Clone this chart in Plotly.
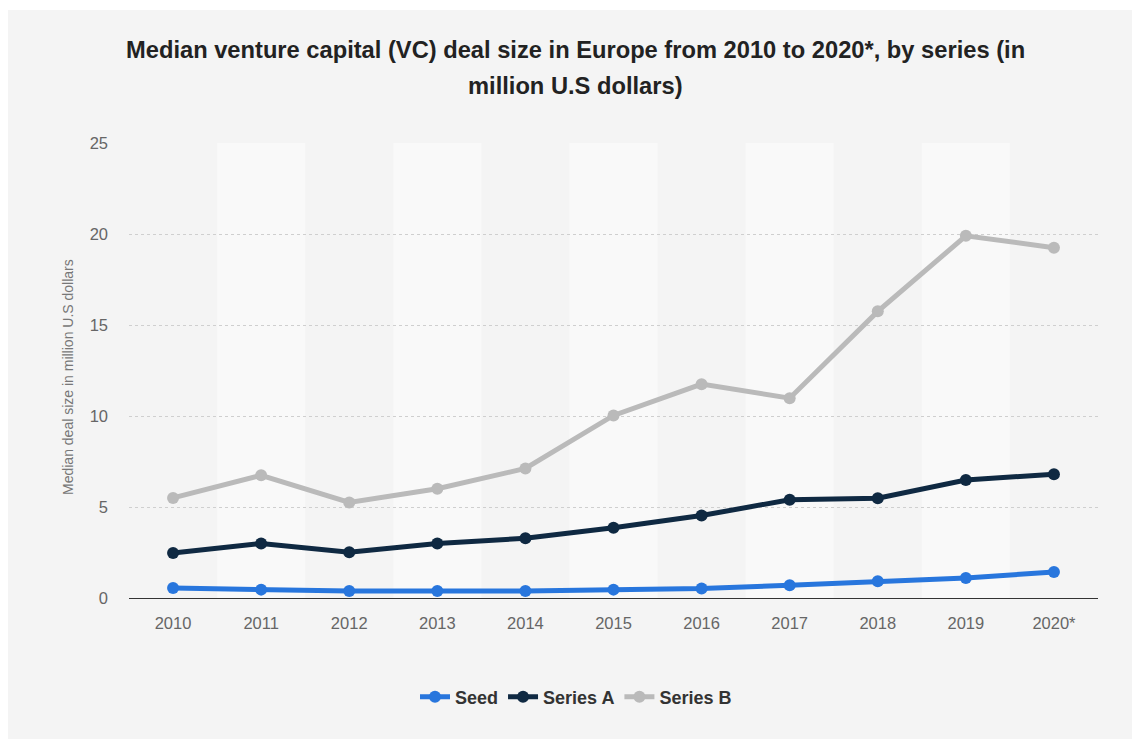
import plotly.graph_objects as go

# Median VC deal size in Europe, million U.S. dollars
years = ["2010", "2011", "2012", "2013", "2014", "2015", "2016", "2017", "2018", "2019", "2020*"]
seed = [0.55, 0.46, 0.38, 0.38, 0.38, 0.46, 0.52, 0.7, 0.92, 1.1, 1.43]
series_a = [2.47, 3.0, 2.52, 3.0, 3.28, 3.86, 4.53, 5.4, 5.48, 6.48, 6.8]
series_b = [5.5, 6.74, 5.25, 6.0, 7.12, 10.03, 11.75, 10.98, 15.75, 19.9, 19.25]

y_ticks = [0, 5, 10, 15, 20, 25]

W, H = 1132, 739
L, R, T, B = 129, 34, 143, 141
pw, ph = W - L - R, H - T - B
FONT = "Liberation Sans, Arial, Helvetica, sans-serif"


def px_x(x):
    return (x - L) / pw


def px_y(y):
    return (H - B - y) / ph


fig = go.Figure()

series = [
    ("Seed", seed, "#2876dd"),
    ("Series A", series_a, "#0f2942"),
    ("Series B", series_b, "#bababa"),
]
for name, vals, color in series:
    fig.add_trace(go.Scatter(
        x=list(range(len(years))), y=vals, name=name, mode="lines+markers",
        line=dict(color=color, width=5),
        marker=dict(color=color, size=12),
    ))

shapes = [
    # grey card with a thin white edge on top and left
    dict(type="rect", xref="paper", yref="paper", layer="below",
         x0=px_x(8), x1=px_x(W + 5), y0=px_y(H + 5), y1=px_y(10),
         fillcolor="#f4f4f4", line=dict(width=0)),
]
# alternating column bands
for i in range(len(years)):
    if i % 2 == 1:
        shapes.append(dict(type="rect", xref="x", yref="paper", layer="below",
                           x0=i - 0.5, x1=i + 0.5, y0=0, y1=1,
                           fillcolor="#f9f9f9", line=dict(width=0)))

annotations = [
    dict(text="<b>Median venture capital (VC) deal size in Europe from 2010 to 2020*, by series (in</b>",
         xref="paper", yref="paper", x=px_x(575), y=px_y(50), xanchor="center", yanchor="middle",
         showarrow=False, font=dict(size=23.7, color="#222222", family=FONT)),
    dict(text="<b>million U.S dollars)</b>",
         xref="paper", yref="paper", x=px_x(575), y=px_y(86), xanchor="center", yanchor="middle",
         showarrow=False, font=dict(size=23.7, color="#222222", family=FONT)),
    dict(text="Median deal size in million U.S dollars",
         xref="paper", yref="paper", x=px_x(68), y=px_y(377), xanchor="center", yanchor="middle",
         textangle=-90, showarrow=False, font=dict(size=14, color="#777777", family=FONT)),
]

fig.update_layout(
    width=W, height=H,
    margin=dict(l=L, r=R, t=T, b=B, pad=0),
    paper_bgcolor="#ffffff",
    plot_bgcolor="rgba(0,0,0,0)",
    font=dict(family=FONT, color="#666666", size=16),
    shapes=shapes,
    annotations=annotations,
    showlegend=True,
    legend=dict(orientation="h", x=px_x(576), y=px_y(697), xanchor="center", yanchor="middle",
                font=dict(size=18, color="#333333", family=FONT, weight="bold"),
                bgcolor="rgba(0,0,0,0)", itemwidth=30),
    xaxis=dict(
        tickmode="array", tickvals=list(range(len(years))), ticktext=years,
        range=[-0.5, len(years) - 0.5], showgrid=False, zeroline=False,
        showline=True, linecolor="#333333", linewidth=1.2,
        ticks="", ticklabelstandoff=10, tickfont=dict(size=16.5, color="#666666"),
        fixedrange=True,
    ),
    yaxis=dict(
        range=[0, 25], tickvals=y_ticks, showgrid=True, gridcolor="#cfcfcf",
        griddash="dot", gridwidth=1, zeroline=False, showline=False,
        ticks="", ticklabelstandoff=20, tickfont=dict(size=16.5, color="#666666"),
        fixedrange=True,
    ),
)

fig.write_html("out.html")
